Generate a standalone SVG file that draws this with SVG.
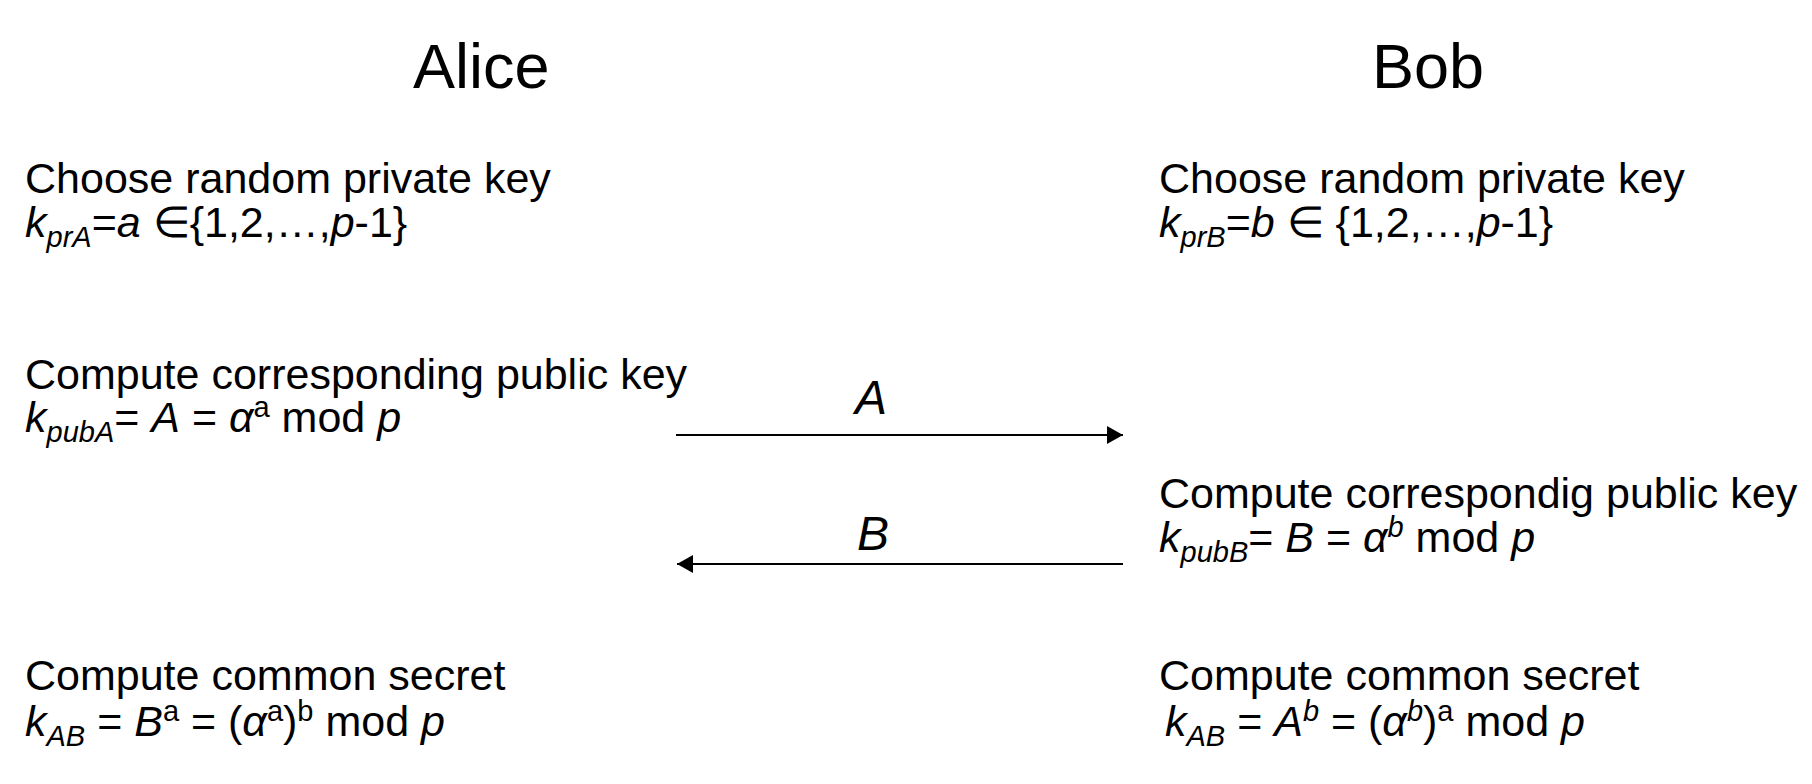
<svg xmlns="http://www.w3.org/2000/svg" width="1812" height="784" viewBox="0 0 1812 784">
<defs>
<marker id="ah" markerUnits="userSpaceOnUse" markerWidth="16" markerHeight="18" refX="16" refY="9" orient="auto">
<path d="M0,0 L16,9 L0,18 Z" fill="#000"/>
</marker>
<style>
text{font-family:"Liberation Sans",Arial,Helvetica,sans-serif;fill:#000;}
.title{font-size:63px;}
.body{font-size:43px;}
.lbl{font-size:48px;font-style:italic;}
.i{font-style:italic;}
.sub{font-size:29px;font-style:italic;}
.sup{font-size:29px;}
.conn{stroke:#000;stroke-width:2;fill:none;}
</style>
</defs>
<rect width="1812" height="784" fill="#fff"/>
<g id="alice-title"><text class="title" x="413" y="88">Alice</text></g>
<g id="bob-title"><text class="title" x="1372" y="88">Bob</text></g>

<g id="alice-private">
<text class="body" x="25" y="193">Choose random private key</text>
<text class="body" x="25" y="237"><tspan class="i">k</tspan><tspan class="sub" baseline-shift="-10">prA</tspan>=<tspan class="i">a</tspan> ∈{1,2,…,<tspan class="i">p</tspan>-1}</text>
</g>
<g id="alice-public">
<text class="body" x="25" y="389">Compute corresponding public key</text>
<text class="body" x="25" y="432"><tspan class="i">k</tspan><tspan class="sub" baseline-shift="-10">pubA</tspan>= <tspan class="i">A</tspan> = <tspan class="i">α</tspan><tspan class="sup" baseline-shift="15">a</tspan> mod <tspan class="i">p</tspan></text>
</g>
<g id="alice-secret">
<text class="body" x="25" y="690">Compute common secret</text>
<text class="body" x="25" y="736"><tspan class="i">k</tspan><tspan class="sub" baseline-shift="-10">AB</tspan> = <tspan class="i">B</tspan><tspan class="sup" baseline-shift="15">a</tspan> = (<tspan class="i">α</tspan><tspan class="sup" baseline-shift="15">a</tspan>)<tspan class="sup" baseline-shift="15">b</tspan> mod <tspan class="i">p</tspan></text>
</g>

<g id="bob-private">
<text class="body" x="1159" y="193">Choose random private key</text>
<text class="body" x="1159" y="237"><tspan class="i">k</tspan><tspan class="sub" baseline-shift="-10">prB</tspan>=<tspan class="i">b</tspan> ∈ {1,2,…,<tspan class="i">p</tspan>-1}</text>
</g>
<g id="bob-public">
<text class="body" x="1159" y="508">Compute correspondig public key</text>
<text class="body" x="1159" y="552"><tspan class="i">k</tspan><tspan class="sub" baseline-shift="-10">pubB</tspan>= <tspan class="i">B</tspan> = <tspan class="i">α</tspan><tspan class="sup i" baseline-shift="15">b</tspan> mod <tspan class="i">p</tspan></text>
</g>
<g id="bob-secret">
<text class="body" x="1159" y="690">Compute common secret</text>
<text class="body" x="1165" y="736"><tspan class="i">k</tspan><tspan class="sub" baseline-shift="-10">AB</tspan> = <tspan class="i">A</tspan><tspan class="sup i" baseline-shift="15">b</tspan> = (<tspan class="i">α</tspan><tspan class="sup i" baseline-shift="15">b</tspan>)<tspan class="sup" baseline-shift="15">a</tspan> mod <tspan class="i">p</tspan></text>
</g>

<g id="connectors">
<line class="conn" x1="676" y1="435" x2="1123" y2="435" marker-end="url(#ah)"/>
<text class="lbl" x="855" y="414">A</text>
<line class="conn" x1="1123" y1="564" x2="677" y2="564" marker-end="url(#ah)"/>
<text class="lbl" x="857" y="550">B</text>
</g>
</svg>
